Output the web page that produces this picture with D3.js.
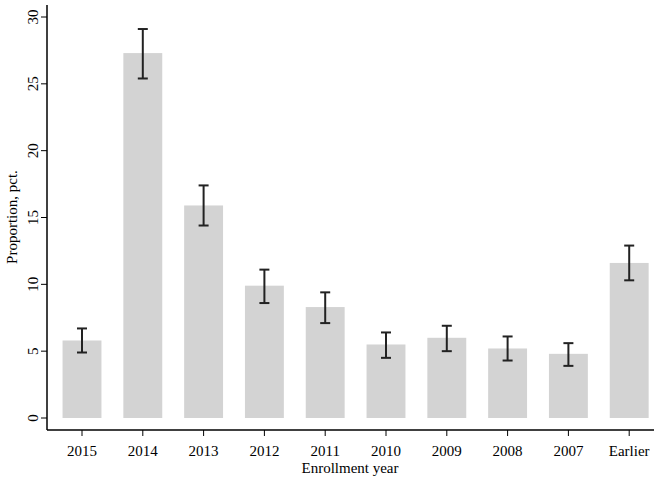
<!DOCTYPE html>
<html><head><meta charset="utf-8">
<script src="https://cdn.jsdelivr.net/npm/d3@7"></script>
<style>body{margin:0;background:#fff}text{font-family:"Liberation Serif",serif;fill:#000}</style>
</head><body><div id="chart"></div>
<script>
var categories = ["2015","2014","2013","2012","2011","2010","2009","2008","2007","Earlier"];
var values = [5.8, 27.3, 15.9, 9.9, 8.3, 5.5, 6.0, 5.2, 4.8, 11.6];
var lower = [4.9, 25.4, 14.4, 8.6, 7.1, 4.5, 5.0, 4.3, 3.9, 10.3];
var upper = [6.7, 29.1, 17.4, 11.1, 9.4, 6.4, 6.9, 6.1, 5.6, 12.9];
var yTicks = [0, 5, 10, 15, 20, 25, 30];

var svgWidth = 654, svgHeight = 480;
var svg = d3.select("#chart").append("svg")
    .attr("width", svgWidth).attr("height", svgHeight);

var x = d3.scaleBand().domain(categories).range([51.6, 659.6]).paddingInner(0.36).paddingOuter(0.18);
var y = d3.scaleLinear().domain([0, 30]).range([418, 17]);

// bars
svg.selectAll(".bar").data(categories).enter().append("rect")
    .attr("x", d => x(d)).attr("width", x.bandwidth())
    .attr("y", (d, i) => y(values[i]))
    .attr("height", (d, i) => y(0) - y(values[i]))
    .attr("fill", "#d3d3d3");

// error bars
var cap = 5;
var eb = svg.selectAll(".err").data(categories).enter().append("g")
    .attr("stroke", "#222").attr("stroke-width", 2);
eb.append("line").attr("x1", d => x(d) + x.bandwidth() / 2).attr("x2", d => x(d) + x.bandwidth() / 2)
    .attr("y1", (d, i) => y(lower[i])).attr("y2", (d, i) => y(upper[i]));
eb.append("line").attr("x1", d => x(d) + x.bandwidth() / 2 - cap).attr("x2", d => x(d) + x.bandwidth() / 2 + cap)
    .attr("y1", (d, i) => y(lower[i])).attr("y2", (d, i) => y(lower[i]));
eb.append("line").attr("x1", d => x(d) + x.bandwidth() / 2 - cap).attr("x2", d => x(d) + x.bandwidth() / 2 + cap)
    .attr("y1", (d, i) => y(upper[i])).attr("y2", (d, i) => y(upper[i]));

// axes
var xAxis = svg.append("g").attr("transform", "translate(0,430)")
    .call(d3.axisBottom(x).tickSize(6).tickSizeOuter(0));
xAxis.select(".domain").attr("d", "M47,0H654");
var yAxis = svg.append("g").attr("transform", "translate(47,0)")
    .call(d3.axisLeft(y).tickValues(yTicks).tickSize(6).tickSizeOuter(0));
yAxis.select(".domain").attr("d", "M0,5V430");
svg.selectAll(".domain").attr("stroke", "#000").attr("stroke-width", 1.5);
svg.selectAll(".tick line").attr("stroke", "#000");
svg.selectAll(".tick text").style("font-family", "Liberation Serif").attr("fill", "#000");
xAxis.selectAll("text").style("font-size", "15px").attr("dy", "1.1em");
yAxis.selectAll(".tick text")
    .style("font-size", "15px").attr("text-anchor", "middle")
    .attr("x", 0).attr("y", 0).attr("dy", "0.35em")
    .each(function (d) { d3.select(this).attr("transform", "translate(-14," + y(d) + ") rotate(-90)"); });
yAxis.selectAll(".tick").attr("transform", "translate(0,0)")
    .each(function (d) { d3.select(this).select("line").attr("y1", y(d)).attr("y2", y(d)); });

svg.append("text").attr("x", 350).attr("y", 473).attr("text-anchor", "middle")
    .style("font-size", "15px").text("Enrollment year");
svg.append("text").attr("transform", "translate(17,217) rotate(-90)").attr("text-anchor", "middle")
    .style("font-size", "15px").text("Proportion, pct.");
</script></body></html>
